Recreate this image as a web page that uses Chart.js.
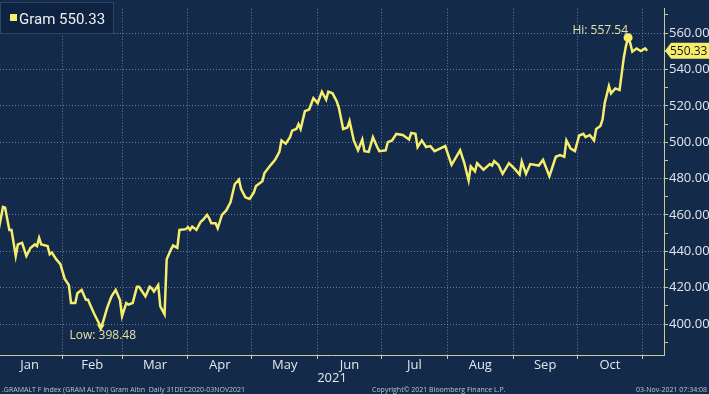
<!DOCTYPE html>
<html>
<head>
<meta charset="utf-8">
<script src="https://cdn.jsdelivr.net/npm/chart.js@4"></script>
<style>
  html, body { margin: 0; padding: 0; background: #132a4a; }
  canvas { display: block; }
</style>
</head>
<body>
<canvas id="chart" width="709" height="394"></canvas>
<script>
// Gram gold price, daily, 31DEC2020-03NOV2021
const seriesName = "Gram";
const dates = [
  "2020-12-31", "2021-01-04", "2021-01-05", "2021-01-07", "2021-01-08", "2021-01-10", "2021-01-11", "2021-01-13",
  "2021-01-15", "2021-01-17", "2021-01-19", "2021-01-20", "2021-01-21", "2021-01-22", "2021-01-25", "2021-01-26",
  "2021-01-27", "2021-01-29", "2021-01-31", "2021-02-02", "2021-02-04", "2021-02-05", "2021-02-07", "2021-02-08",
  "2021-02-10", "2021-02-12", "2021-02-13", "2021-02-14", "2021-02-16", "2021-02-19", "2021-02-20", "2021-02-22",
  "2021-02-24", "2021-02-26", "2021-02-28", "2021-03-01", "2021-03-03", "2021-03-04", "2021-03-06", "2021-03-08",
  "2021-03-09", "2021-03-12", "2021-03-14", "2021-03-15", "2021-03-16", "2021-03-18", "2021-03-19", "2021-03-21",
  "2021-03-22", "2021-03-24", "2021-03-25", "2021-03-27", "2021-03-28", "2021-03-31", "2021-04-01", "2021-04-02",
  "2021-04-03", "2021-04-05", "2021-04-07", "2021-04-08", "2021-04-10", "2021-04-11", "2021-04-12", "2021-04-14",
  "2021-04-15", "2021-04-17", "2021-04-19", "2021-04-21", "2021-04-23", "2021-04-25", "2021-04-26", "2021-04-28",
  "2021-04-30", "2021-05-02", "2021-05-03", "2021-05-06", "2021-05-07", "2021-05-10", "2021-05-12", "2021-05-14",
  "2021-05-15", "2021-05-17", "2021-05-19", "2021-05-20", "2021-05-22", "2021-05-23", "2021-05-24", "2021-05-26",
  "2021-05-28", "2021-05-30", "2021-06-01", "2021-06-03", "2021-06-05", "2021-06-06", "2021-06-08", "2021-06-10",
  "2021-06-11", "2021-06-13", "2021-06-15", "2021-06-16", "2021-06-18", "2021-06-20", "2021-06-22", "2021-06-23",
  "2021-06-25", "2021-06-27", "2021-06-29", "2021-06-30", "2021-07-03", "2021-07-04", "2021-07-06", "2021-07-08",
  "2021-07-11", "2021-07-14", "2021-07-15", "2021-07-17", "2021-07-18", "2021-07-20", "2021-07-22", "2021-07-24",
  "2021-07-26", "2021-07-31", "2021-08-03", "2021-08-07", "2021-08-09", "2021-08-11", "2021-08-12", "2021-08-14",
  "2021-08-15", "2021-08-18", "2021-08-21", "2021-08-22", "2021-08-23", "2021-08-25", "2021-08-27", "2021-08-30",
  "2021-09-02", "2021-09-04", "2021-09-05", "2021-09-07", "2021-09-09", "2021-09-13", "2021-09-15", "2021-09-18",
  "2021-09-21", "2021-09-23", "2021-09-25", "2021-09-26", "2021-09-28", "2021-09-30", "2021-10-02", "2021-10-04",
  "2021-10-05", "2021-10-07", "2021-10-09", "2021-10-10", "2021-10-12", "2021-10-13", "2021-10-14", "2021-10-16",
  "2021-10-17", "2021-10-19", "2021-10-21", "2021-10-22", "2021-10-23", "2021-10-24", "2021-10-25", "2021-10-26",
  "2021-10-27", "2021-10-29", "2021-10-31", "2021-11-02", "2021-11-03"
];
const prices = [
  440.0, 464.4, 464.0, 451.8, 451.8, 437.5, 443.8, 444.7,
  437.5, 442.0, 443.8, 442.9, 447.4, 443.8, 442.9, 438.4,
  439.3, 435.7, 433.0, 425.0, 421.4, 411.6, 411.6, 417.0,
  418.8, 413.4, 413.4, 410.7, 405.4, 398.48, 400.9, 408.9,
  415.2, 418.8, 413.4, 404.4, 411.6, 410.7, 411.6, 420.5,
  420.5, 415.2, 420.5, 419.6, 417.9, 421.4, 409.8, 405.4,
  435.7, 441.0, 443.2, 442.0, 451.8, 452.2, 453.3, 451.8,
  453.6, 451.8, 456.3, 457.2, 460.0, 458.1, 455.4, 455.4,
  452.7, 460.0, 462.5, 467.0, 476.9, 479.5, 474.2, 469.7,
  468.8, 472.4, 476.0, 478.6, 483.1, 487.6, 490.3, 494.7,
  501.0, 499.2, 502.8, 506.4, 507.3, 510.0, 507.3, 517.1,
  518.0, 524.2, 521.5, 527.8, 523.4, 527.8, 526.9, 522.4,
  518.9, 507.3, 508.1, 511.7, 501.0, 495.6, 501.5, 495.1,
  494.7, 502.8, 497.4, 495.1, 495.6, 500.1, 501.0, 504.6,
  504.0, 501.5, 505.1, 504.6, 497.4, 501.0, 497.4, 497.9,
  495.1, 497.9, 487.6, 495.6, 488.5, 479.0, 486.7, 484.0,
  488.5, 484.9, 488.0, 487.2, 489.7, 487.6, 482.6, 488.5,
  484.9, 482.2, 489.4, 482.6, 488.0, 487.2, 490.3, 481.3,
  492.0, 492.9, 492.0, 501.0, 496.5, 495.1, 503.7, 504.6,
  502.8, 504.0, 501.0, 507.3, 509.0, 512.6, 521.5, 530.9,
  526.9, 529.6, 528.7, 537.6, 546.6, 552.9, 557.54, 554.6,
  549.8, 551.6, 550.2, 551.6, 550.33
];

const monthBounds = ["2021-01-01", "2021-02-01", "2021-03-01", "2021-04-01", "2021-05-01", "2021-06-01",
  "2021-07-01", "2021-08-01", "2021-09-01", "2021-10-01", "2021-11-01"];
const monthLabels = ["Jan", "Feb", "Mar", "Apr", "May", "Jun", "Jul", "Aug", "Sep", "Oct"];
const yearLabel = "2021";
const yLabelTicks = [400, 420, 440, 460, 480, 500, 520, 540, 560];

const footerLeft = ".GRAMALT F Index (GRAM ALTIN) Gram Altın  Daily 31DEC2020-03NOV2021";
const footerMid = "Copyright© 2021 Bloomberg Finance L.P.";
const footerRight = "03-Nov-2021 07:34:08";

// colours
const BG = "#132a4a";
const LINE = "#f5ee6c";
const GRID = "rgba(160, 180, 210, 0.6)";
const AXIS = "#c7cd95";
const TEXT = "#e3e7ec";
const NOTE = "#e4e0a4";

const DAY = 864e5;
const dayOf = s => (Date.parse(s) - Date.parse("2021-01-01")) / DAY;

const points = dates.map((d, i) => ({ x: dayOf(d), y: prices[i] }));
const hiIdx = prices.indexOf(Math.max(...prices));
const loIdx = prices.indexOf(Math.min(...prices));
const last = prices[prices.length - 1];

const boundDays = monthBounds.map(dayOf);
const midDays = monthLabels.map((m, i) => (boundDays[i] + boundDays[i + 1]) / 2);
const xMin = 1.6, xMax = 313.9;
const yMin = 383, yMax = 573.4;

const overlay = {
    id: "overlay",
    afterDraw(chart) {
        const { ctx, scales: { x, y } } = chart;
        ctx.save();

        // legend box
        ctx.fillStyle = "#0e2241";
        ctx.strokeStyle = "#2d4668";
        ctx.lineWidth = 1;
        ctx.fillRect(0.5, 2.5, 113, 31);
        ctx.strokeRect(0.5, 2.5, 113, 31);
        ctx.fillStyle = LINE;
        ctx.fillRect(10, 14, 7, 7);
        ctx.fillStyle = "#f0f0f0";
        ctx.font = '15px "Liberation Sans Narrow", Roboto, sans-serif';
        ctx.textBaseline = "alphabetic";
        ctx.textAlign = "left";
        ctx.fillText(seriesName + " " + last.toFixed(2), 19, 24);

        // hi / low notes
        ctx.font = '12px "Open Sans", sans-serif';
        ctx.fillStyle = NOTE;
        const hx = x.getPixelForValue(points[hiIdx].x), hy = y.getPixelForValue(prices[hiIdx]);
        ctx.textAlign = "right";
        ctx.fillText("Hi: " + prices[hiIdx].toFixed(2), hx, hy - 4);
        const lx = x.getPixelForValue(points[loIdx].x), ly = y.getPixelForValue(prices[loIdx]);
        ctx.textAlign = "center";
        ctx.fillText("Low: " + prices[loIdx].toFixed(2), lx + 2, ly + 12);

        // last value tag on the axis
        const ty = y.getPixelForValue(last);
        const tx = chart.chartArea.right + 1;
        ctx.fillStyle = LINE;
        ctx.beginPath();
        ctx.moveTo(tx, ty);
        ctx.lineTo(tx + 6, ty - 8);
        ctx.lineTo(709, ty - 8);
        ctx.lineTo(709, ty + 8);
        ctx.lineTo(tx + 6, ty + 8);
        ctx.closePath();
        ctx.fill();
        ctx.fillStyle = "#151515";
        ctx.textAlign = "left";
        ctx.textBaseline = "middle";
        ctx.font = '12px "Open Sans", sans-serif';
        ctx.fillText(last.toFixed(2), tx + 5, ty + 1);

        // footer
        ctx.fillStyle = "#bcc5d1";
        ctx.font = '7px "Open Sans", sans-serif';
        ctx.textBaseline = "alphabetic";
        ctx.textAlign = "left";
        ctx.fillText(footerLeft, 2, 392);
        ctx.fillText(footerMid, 372, 392);
        ctx.textAlign = "right";
        ctx.fillText(footerRight, 707, 392);
        ctx.restore();
    }
};

new Chart(document.getElementById("chart"), {
    type: "line",
    data: {
        datasets: [{
            label: seriesName,
            data: points,
            borderColor: LINE,
            backgroundColor: LINE,
            borderWidth: 2.5,
            tension: 0,
            pointRadius: c => (c.dataIndex === hiIdx || c.dataIndex === loIdx) ? 4.5 : 0,
            pointStyle: c => c.dataIndex === loIdx ? "triangle" : "circle",
            pointRotation: c => c.dataIndex === loIdx ? 180 : 0,
            pointBorderWidth: 0,
            pointBackgroundColor: LINE
        }]
    },
    options: {
        responsive: false,
        animation: false,
        layout: { padding: 0 },
        plugins: {
            legend: { display: false },
            tooltip: { enabled: false }
        },
        scales: {
            x: {
                type: "linear",
                position: "bottom",
                min: xMin,
                max: xMax,
                afterBuildTicks: s => { s.ticks = boundDays.filter(d => d > xMin && d < xMax).map(v => ({ value: v })); },
                afterFit: s => { s.height = 0; },
                grid: { color: GRID, tickColor: AXIS, tickLength: 4 },
                border: { color: AXIS, dash: [1, 2] },
                ticks: { callback: () => "" }
            },
            xl: {
                type: "linear",
                position: "bottom",
                weight: 1,
                min: xMin,
                max: xMax,
                afterBuildTicks: s => { s.ticks = midDays.map(v => ({ value: v })); },
                afterFit: s => { s.height = 39; },
                grid: { display: false, drawTicks: false },
                border: { display: false },
                ticks: {
                    callback: (v, i) => monthLabels[i],
                    color: TEXT,
                    font: { family: "Open Sans", size: 13 },
                    padding: 2,
                    autoSkip: false,
                    maxRotation: 0
                },
                title: {
                    display: true,
                    text: yearLabel,
                    color: TEXT,
                    font: { family: "Open Sans", size: 13 },
                    padding: { top: 0, bottom: 8 }
                }
            },
            y: {
                position: "right",
                min: yMin,
                max: yMax,
                afterBuildTicks: s => {
                    const t = [];
                    for (let v = 390; v <= 570; v += 10) t.push({ value: v });
                    s.ticks = t;
                },
                afterFit: s => { s.width = 45; },
                grid: {
                    color: c => (c.tick && yLabelTicks.includes(c.tick.value)) ? GRID : "rgba(0,0,0,0)",
                    tickColor: AXIS,
                    tickLength: 4
                },
                border: { color: AXIS, dash: [1, 2] },
                ticks: {
                    callback: v => yLabelTicks.includes(v) ? v.toFixed(2) : "",
                    color: TEXT,
                    font: { family: "Open Sans", size: 13 },
                    padding: 1
                }
            }
        }
    },
    plugins: [overlay]
});
</script>
</body>
</html>
